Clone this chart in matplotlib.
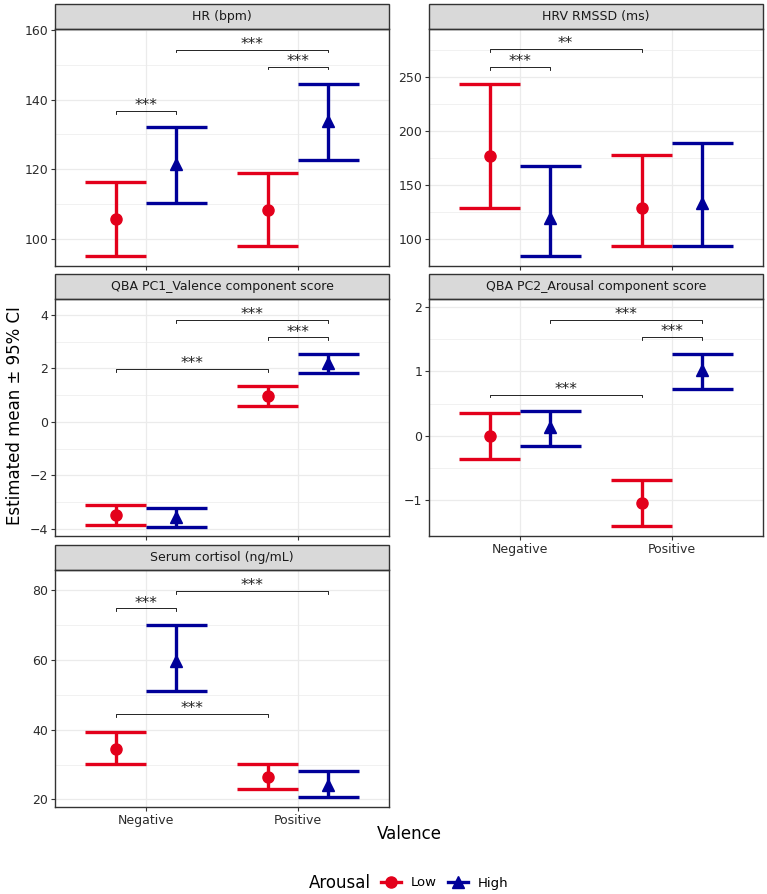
import matplotlib.pyplot as plt
from matplotlib.lines import Line2D
from matplotlib.patches import Rectangle

valence = ["Negative", "Positive"]
arousal = ["Low", "High"]
titles = ["HR (bpm)", "HRV RMSSD (ms)", "QBA PC1_Valence component score",
          "QBA PC2_Arousal component score", "Serum cortisol (ng/mL)"]

# group order: Negative-Low, Negative-High, Positive-Low, Positive-High
hr_mean = [105.6, 121.4, 108.4, 133.9]
hr_lower = [95.0, 110.2, 97.9, 122.8]
hr_upper = [116.2, 132.0, 119.0, 144.6]

hrv_mean = [176.7, 119.6, 128.9, 133.5]
hrv_lower = [128.3, 83.9, 93.5, 93.5]
hrv_upper = [244.1, 168.0, 177.6, 188.5]

pc1_mean = [-3.50, -3.55, 0.96, 2.20]
pc1_lower = [-3.875, -3.925, 0.60, 1.84]
pc1_upper = [-3.125, -3.225, 1.34, 2.54]

pc2_mean = [0.00, 0.145, -1.045, 1.026]
pc2_lower = [-0.362, -0.16, -1.40, 0.73]
pc2_upper = [0.362, 0.388, -0.683, 1.27]

cort_mean = [34.5, 59.8, 26.4, 24.2]
cort_lower = [30.2, 51.0, 23.0, 20.6]
cort_upper = [39.4, 70.1, 30.2, 28.2]

# significance brackets: (group a, group b, y, label)
hr_sig = [(0, 1, 136.8, "***"), (2, 3, 149.5, "***"), (1, 3, 154.4, "***")]
hrv_sig = [(0, 1, 259.6, "***"), (0, 2, 276.1, "**")]
pc1_sig = [(0, 2, 1.99, "***"), (2, 3, 3.16, "***"), (1, 3, 3.81, "***")]
pc2_sig = [(0, 2, 0.64, "***"), (2, 3, 1.53, "***"), (1, 3, 1.80, "***")]
cort_sig = [(0, 1, 74.8, "***"), (0, 2, 44.5, "***"), (1, 3, 79.9, "***")]

panels = [
    (hr_mean, hr_lower, hr_upper, hr_sig, (92.2, 160.3), [100, 120, 140, 160], [110, 130, 150]),
    (hrv_mean, hrv_lower, hrv_upper, hrv_sig, (74.5, 295), [100, 150, 200, 250], [125, 175, 225, 275]),
    (pc1_mean, pc1_lower, pc1_upper, pc1_sig, (-4.275, 4.6), [-4, -2, 0, 2, 4], [-3, -1, 1, 3]),
    (pc2_mean, pc2_lower, pc2_upper, pc2_sig, (-1.55, 2.12), [-1, 0, 1, 2], [-0.5, 0.5, 1.5]),
    (cort_mean, cort_lower, cort_upper, cort_sig, (17.8, 85.85), [20, 40, 60, 80], [30, 50, 70]),
]

colors = {"Low": "#E3001B", "High": "#000099"}
markers = {"Low": "o", "High": "^"}
msize = {"Low": 8, "High": 8.5}
dodge = {"Low": -0.2, "High": 0.2}

W, H = 767, 894
fig = plt.figure(figsize=(W / 100, H / 100), dpi=100)

# panel boxes in pixels: (left, top)
pw, ph, strip_h = 334, 237, 25
boxes = [(55, 29), (429, 29), (55, 299), (429, 299), (55, 570)]

dark = "#333333"

for i, (mean, lo, hi, sig, ylim, major, minor) in enumerate(panels):
    left, top = boxes[i]
    ax = fig.add_axes([left / W, 1 - (top + ph) / H, pw / W, ph / H])
    ax.set_xlim(0.4, 2.6)
    ax.set_ylim(*ylim)
    ax.set_yticks(major)
    ax.set_yticks(minor, minor=True)
    ax.set_xticks([1, 2])
    ax.grid(True, which="major", color="#EBEBEB", lw=0.9, zorder=0)
    ax.grid(True, which="minor", axis="y", color="#EBEBEB", lw=0.5, zorder=0)
    ax.set_axisbelow(True)
    for s in ax.spines.values():
        s.set_color(dark)
        s.set_linewidth(1.0)
    ax.tick_params(which="both", length=3, width=0.8, color=dark,
                   labelsize=9, labelcolor="#2b2b2b", pad=2)
    ax.tick_params(which="minor", length=0)
    if i in (3, 4):
        ax.set_xticklabels(valence)
    else:
        ax.set_xticklabels([])

    for k in range(4):
        v = k // 2
        a = arousal[k % 2]
        x = v + 1 + dodge[a]
        c = colors[a]
        ax.plot([x, x], [lo[k], hi[k]], color=c, lw=2.4, solid_capstyle="butt", zorder=3)
        ax.plot([x - 0.2, x + 0.2], [lo[k], lo[k]], color=c, lw=2.4, solid_capstyle="butt", zorder=3)
        ax.plot([x - 0.2, x + 0.2], [hi[k], hi[k]], color=c, lw=2.4, solid_capstyle="butt", zorder=3)
        ax.plot([x], [mean[k]], marker=markers[a], ms=msize[a], color=c, zorder=4)

    tip = 0.012 * (ylim[1] - ylim[0])
    for ga, gb, y, lab in sig:
        xa = ga // 2 + 1 + dodge[arousal[ga % 2]]
        xb = gb // 2 + 1 + dodge[arousal[gb % 2]]
        ax.plot([xa, xa, xb, xb], [y - tip, y, y, y - tip], color="black", lw=0.6, zorder=5)
        ax.annotate(lab, ((xa + xb) / 2, y), xytext=(0, -1.5), textcoords="offset points",
                    ha="center", va="bottom", fontsize=11, color="#222222")

    # strip
    sh = strip_h / ph
    ax.add_patch(Rectangle((0, 1), 1, sh, transform=ax.transAxes, clip_on=False,
                           facecolor="#D9D9D9", edgecolor=dark, lw=1.0))
    ax.text(0.5, 1 + sh / 2, titles[i], transform=ax.transAxes, ha="center",
            va="center", fontsize=9, color="#1a1a1a")

fig.text(15 / W, 1 - 416 / H, "Estimated mean \u00b1 95% CI", rotation=90,
         ha="center", va="center", fontsize=12)
fig.text(409 / W, 1 - 834 / H, "Valence", ha="center", va="center", fontsize=12)

fig.text(340 / W, 1 - 883 / H, "Arousal", ha="center", va="center", fontsize=12)
handles = [Line2D([], [], color=colors[a], marker=markers[a], lw=2.4, ms=8) for a in arousal]
fig.legend(handles, arousal, loc="center left", bbox_to_anchor=(381 / W, 1 - 883 / H),
           ncol=2, frameon=False, fontsize=9.5, handlelength=1.5, handletextpad=0.75,
           columnspacing=0.85, borderaxespad=0, borderpad=0)

fig.savefig("out.png", dpi=100)
